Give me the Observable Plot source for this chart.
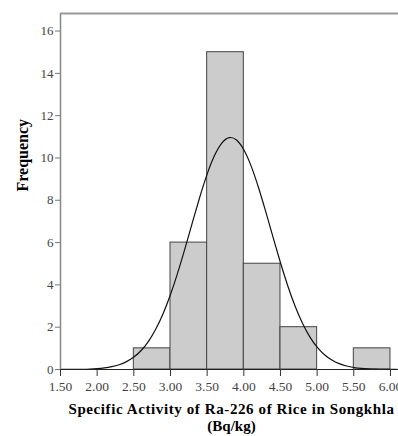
<!DOCTYPE html>
<html>
<head>
<meta charset="utf-8">
<script src="https://cdn.jsdelivr.net/npm/d3@7"></script>
<script src="https://cdn.jsdelivr.net/npm/@observablehq/plot@0.6"></script>
<style>
  html, body { margin: 0; padding: 0; background: #fff; overflow: hidden; }
  #wrap { width: 398px; height: 436px; overflow: hidden; }
  #wrap svg { max-width: none !important; }
</style>
</head>
<body>
<div id="wrap"></div>
<script>
// Histogram bins (Bq/kg) and frequencies
const binStart = [2.5, 3.0, 3.5, 4.0, 4.5, 5.0, 5.5];
const binEnd   = [3.0, 3.5, 4.0, 4.5, 5.0, 5.5, 6.0];
const counts   = [1, 6, 15, 5, 2, 0, 1];

// Normal curve
const curveX = [1.5,1.6,1.7,1.8,1.9,2.0,2.1,2.2,2.3,2.4,2.5,2.6,2.7,2.8,2.9,3.0,3.1,3.2,3.3,3.4,3.5,3.6,3.7,3.8,3.9,4.0,4.1,4.2,4.3,4.4,4.5,4.6,4.7,4.8,4.9,5.0,5.1,5.2,5.3,5.4,5.5,5.6,5.7,5.8,5.9,6.0,6.1];
const curveY = [0.001,0.003,0.005,0.011,0.021,0.040,0.072,0.128,0.218,0.359,0.572,0.879,1.309,1.884,2.619,3.519,4.572,5.741,6.968,8.173,9.269,10.160,10.763,11.022,10.911,10.440,9.655,8.631,7.458,6.229,5.029,3.924,2.959,2.157,1.520,1.035,0.682,0.434,0.267,0.159,0.091,0.051,0.027,0.014,0.007,0.003,0.001];

// Tick labels
const xTicks = [1.5, 2.0, 2.5, 3.0, 3.5, 4.0, 4.5, 5.0, 5.5, 6.0];
const yTicks = [0, 2, 4, 6, 8, 10, 12, 14, 16];
const xTitle1 = "Specific Activity of Ra-226 of Rice in Songkhla";
const xTitle2 = "(Bq/kg)";
const yTitle = "Frequency";

const bars = binStart.map((s, i) => ({x1: s, x2: binEnd[i], y: counts[i]})).filter(d => d.y > 0);
const curve = curveX.map((x, i) => ({x, y: curveY[i]}));

const chart = Plot.plot({
  width: 402,
  height: 436,
  marginTop: 13,
  marginLeft: 60,
  marginRight: 0,
  marginBottom: 67,
  style: {fontFamily: "Liberation Serif", fontSize: "13px", color: "#333", background: "#fff"},
  x: {domain: [1.5, 6.164], axis: null},
  y: {domain: [0, 16.83], axis: null},
  marks: [
    Plot.rectY(bars, {x1: "x1", x2: "x2", y: "y", fill: "#cccccc", stroke: "#444", strokeWidth: 1, inset: 0}),
    Plot.line(curve, {x: "x", y: "y", stroke: "#111", strokeWidth: 1.2, curve: "basis"}),
    Plot.ruleX([1.5], {stroke: "#888", strokeWidth: 1.5}),
    Plot.ruleY([16.83], {stroke: "#999", strokeWidth: 2}),
    Plot.ruleY([0], {stroke: "#222", strokeWidth: 1.2}),
    Plot.axisX({ticks: xTicks, tickFormat: d => d.toFixed(2), tickSize: 7, tickPadding: 5, stroke: "#333", fill: "#444", label: null}),
    Plot.axisY({ticks: yTicks, tickFormat: d => String(d), tickSize: 5, tickPadding: 2, stroke: "#777", fill: "#444", label: null}),
    Plot.text([xTitle1], {text: d => d, frameAnchor: "bottom", dy: 40, lineAnchor: "middle", fontWeight: "bold", fontSize: 15, fill: "#000", fontFamily: "Liberation Serif"}),
    Plot.text([xTitle2], {text: d => d, frameAnchor: "bottom", dy: 57, lineAnchor: "middle", fontWeight: "bold", fontSize: 15, fill: "#000", fontFamily: "Liberation Serif"}),
    Plot.text([yTitle], {text: d => d, frameAnchor: "left", dx: -38, rotate: -90, fontWeight: "bold", fontSize: 16, fill: "#000", fontFamily: "Liberation Serif"})
  ]
});
const xLabels = xTicks.map(d => d.toFixed(2));
const yLabels = yTicks.map(d => String(d));
d3.select(chart).selectAll("text").each(function() {
  const t = this.textContent;
  if (t === xTitle1) this.setAttribute("letter-spacing", "0.6px");
  if (xLabels.includes(t)) { this.style.fontSize = "13.5px"; this.style.fontFamily = "Liberation Serif"; }
  if (yLabels.includes(t)) { this.style.fontSize = "13px"; this.style.fontFamily = "Liberation Serif"; }
});
document.getElementById("wrap").appendChild(chart);
</script>
</body>
</html>
